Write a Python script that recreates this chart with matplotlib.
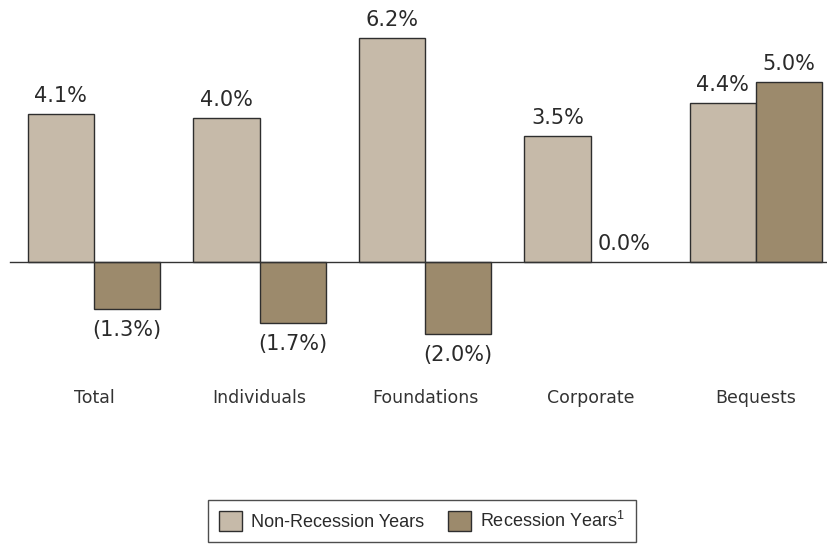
"""Charitable giving growth: non-recession vs recession years."""

import numpy as np
import matplotlib
matplotlib.use("Agg")
import matplotlib.pyplot as plt
from matplotlib.patches import Patch

categories = ["Total", "Individuals", "Foundations", "Corporate", "Bequests"]
non_recession = [4.1, 4.0, 6.2, 3.5, 4.4]
recession = [-1.3, -1.7, -2.0, 0.0, 5.0]
series_names = ["Non-Recession Years", "Recession Years$^{\\mathregular{1}}$"]

light = "#c6baa9"
dark = "#9c8a6c"
edge = "#2e2e2e"
text_color = "#2a2a2a"


def fmt(v):
    if v < 0:
        return f"({abs(v):.1f}%)"
    return f"{v:.1f}%"


fig = plt.figure(figsize=(8.28, 5.58), dpi=100)
ax = fig.add_axes([0, 0, 1, 1])
ax.axis("off")

x = np.arange(len(categories))
w = 0.4
ax.set_xlim(-0.568, 4.435)
ax.set_ylim(-8.2, 7.26)

b1 = ax.bar(x - w / 2, non_recession, w, color=light, edgecolor=edge, linewidth=1.0, zorder=2)
b2 = ax.bar(x + w / 2, recession, w, color=dark, edgecolor=edge, linewidth=1.0, zorder=2)
for bar, v in zip(b2, recession):
    if v == 0:
        bar.set_visible(False)

ax.axhline(0, xmin=10 / 828, xmax=1, color="#333333", linewidth=1.0, zorder=3)

for series, xs in ((non_recession, x - w / 2), (recession, x + w / 2)):
    for xi, v in zip(xs, series):
        if v >= 0:
            ax.text(xi, v + 0.22, fmt(v), ha="center", va="bottom",
                    fontsize=15, color=text_color, family="DejaVu Sans")
        else:
            ax.text(xi, v - 0.3, fmt(v), ha="center", va="top",
                    fontsize=15, color=text_color, family="DejaVu Sans")

for xi, c in zip(x, categories):
    ax.text(xi, -3.77, c, ha="center", va="center", fontsize=12.5,
            color="#333333", family="DejaVu Sans")

handles = [Patch(facecolor=light, edgecolor=edge, linewidth=1.0),
           Patch(facecolor=dark, edgecolor=edge, linewidth=1.0)]
leg = fig.legend(handles, series_names, loc="center",
                 bbox_to_anchor=(422 / 828, 1 - 521 / 558), ncol=2,
                 frameon=True, fancybox=False, edgecolor="#222222",
                 handlelength=1.3, handleheight=1.3,
                 columnspacing=1.3, handletextpad=0.5, borderpad=0.6,
                 prop={"family": "Liberation Sans", "size": 13})
leg.get_frame().set_linewidth(1.0)
for t in leg.get_texts():
    t.set_color(text_color)

fig.savefig("out.png", dpi=100)
plt.close(fig)
